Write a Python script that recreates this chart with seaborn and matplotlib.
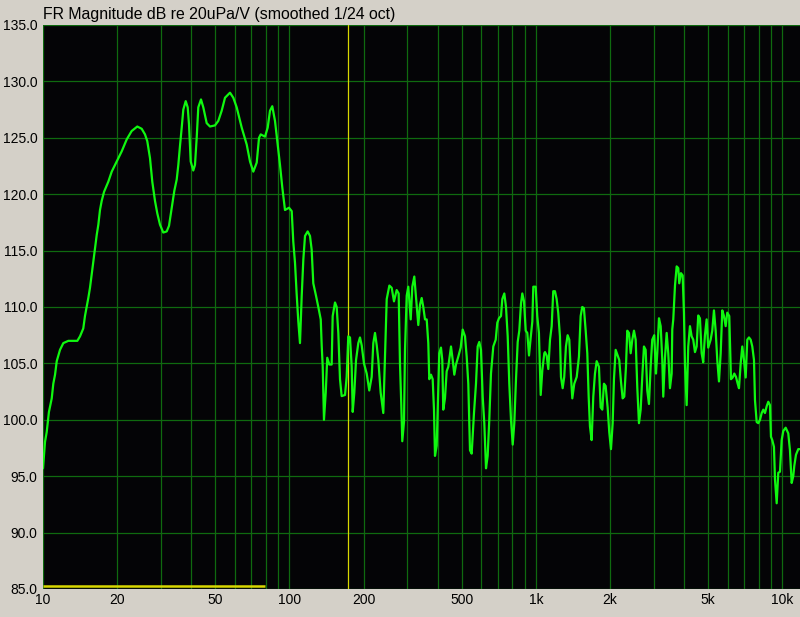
import matplotlib
matplotlib.use('Agg')
import matplotlib.pyplot as plt
import seaborn as sns
import pandas as pd
from matplotlib.ticker import FixedLocator, NullFormatter

# Frequency response (Hz, dB)
freq_hz = [
    10.0, 10.19, 10.35, 10.57, 10.85, 11.01, 11.19, 11.37, 11.72, 12.09,
    12.67, 13.27, 13.78, 14.13, 14.57, 14.80, 15.27, 15.51, 15.76, 16.00,
    16.26, 16.52, 16.77, 17.03, 17.30, 17.68, 18.40, 19.00, 19.91, 20.86,
    21.85, 22.89, 24.13, 25.14, 25.93, 26.49, 27.17, 27.76, 28.47, 29.09,
    29.83, 30.76, 31.76, 32.45, 33.28, 34.10, 34.87, 35.40, 35.96, 36.54,
    37.09, 37.93, 38.64, 39.11, 39.74, 40.71, 41.36, 42.03, 42.66, 43.75,
    44.70, 46.14, 47.59, 49.87, 51.43, 53.08, 54.75, 57.37, 59.16, 61.07,
    64.00, 67.06, 69.16, 71.33, 73.63, 75.23, 76.43, 79.54, 81.58, 83.35,
    85.15, 87.33, 89.22, 91.51, 93.50, 95.88, 99.54, 102.1, 103.6, 105.3,
    106.9, 108.6, 110.3, 112.1, 113.8, 115.6, 118.5, 121.1, 123.0, 124.9,
    128.1, 130.9, 133.9, 135.1, 136.4, 137.1, 138.0, 140.3, 142.3, 145.1,
    148.3, 149.7, 153.0, 155.4, 157.8, 160.3, 162.8, 168.0, 170.6, 173.2,
    176.0, 178.8, 180.5, 183.2, 186.2, 190.2, 193.2, 196.3, 200.5, 205.7,
    210.7, 215.5, 218.8, 222.3, 225.9, 229.3, 234.4, 240.2, 244.1, 248.0,
    254.2, 259.8, 265.4, 272.2, 277.3, 280.7, 284.1, 286.8, 291.4, 294.2,
    298.9, 303.4, 310.3, 315.0, 320.9, 328.1, 333.1, 338.4, 343.8, 349.0,
    354.6, 360.3, 365.7, 369.1, 375.0, 381.0, 385.7, 389.3, 395.5, 401.5,
    405.2, 411.7, 416.8, 420.6, 427.4, 434.2, 440.8, 452.1, 459.4, 466.3,
    473.8, 484.0, 495.0, 504.3, 515.3, 523.5, 531.4, 539.9, 548.4, 560.4,
    571.0, 580.1, 588.8, 598.3, 607.9, 617.1, 627.0, 636.8, 646.5, 656.8,
    671.2, 686.4, 696.7, 707.9, 721.2, 730.1, 743.9, 755.8, 767.8, 779.4,
    791.9, 804.6, 816.7, 829.8, 843.0, 855.7, 869.4, 880.1, 894.2, 908.5,
    922.2, 937.0, 952.0, 966.4, 975.3, 997.2, 1012, 1028, 1045, 1061,
    1081, 1088, 1105, 1122, 1140, 1158, 1175, 1194, 1213, 1231,
    1251, 1263, 1283, 1302, 1323, 1344, 1365, 1387, 1404, 1430,
    1463, 1494, 1518, 1541, 1565, 1591, 1615, 1636, 1656, 1682,
    1708, 1735, 1763, 1801, 1830, 1858, 1887, 1917, 1953, 1983,
    2015, 2047, 2072, 2105, 2145, 2177, 2212, 2247, 2281, 2318,
    2346, 2384, 2422, 2459, 2498, 2538, 2576, 2617, 2659, 2699,
    2742, 2786, 2828, 2873, 2919, 2963, 3019, 3068, 3105, 3155,
    3206, 3254, 3284, 3337, 3390, 3441, 3496, 3552, 3572, 3606,
    3664, 3722, 3778, 3813, 3874, 3936, 3984, 4021, 4086, 4147,
    4214, 4281, 4346, 4416, 4486, 4553, 4626, 4700, 4770, 4847,
    4924, 4998, 5112, 5190, 5273, 5358, 5439, 5526, 5615, 5699,
    5790, 5883, 5971, 6084, 6182, 6281, 6376, 6478, 6582, 6662,
    6768, 6870, 6980, 7092, 7199, 7314, 7431, 7543, 7664, 7735,
    7859, 7978, 8106, 8236, 8360, 8492, 8629, 8759, 8899, 8981,
    9092, 9237, 9325, 9474, 9616, 9770, 9926, 10075, 10304, 10556,
    10725, 10897, 11061, 11166, 11345, 11590, 11776,
]
spl_db = [
    95.7, 98.05, 98.9, 100.7, 101.9, 103.2, 104.0, 105.2, 106.2, 106.8,
    107.0, 107.0, 107.0, 107.4, 108.1, 109.2, 110.8, 111.7, 112.9, 114.0,
    115.2, 116.4, 117.3, 118.6, 119.4, 120.2, 121.1, 122.0, 122.9, 123.8,
    124.85, 125.6, 126.0, 125.8, 125.3, 124.7, 123.2, 121.1, 119.4, 118.3,
    117.3, 116.6, 116.7, 117.2, 118.8, 120.3, 121.3, 122.6, 124.3, 125.9,
    127.5, 128.25, 127.7, 126.2, 122.9, 122.1, 122.6, 125.0, 127.7, 128.4,
    127.7, 126.3, 126.0, 126.1, 126.5, 127.4, 128.55, 129.0, 128.55, 127.7,
    125.9, 124.4, 122.9, 122.0, 122.8, 125.0, 125.3, 125.1, 125.9, 127.4,
    127.8, 126.5, 124.7, 122.6, 120.6, 118.6, 118.8, 118.5, 115.8, 113.9,
    111.2, 108.7, 106.8, 111.0, 114.2, 116.3, 116.7, 116.3, 115.1, 112.1,
    111.0, 110.0, 108.9, 106.6, 104.7, 102.8, 100.0, 102.4, 105.5, 104.9,
    104.9, 109.2, 110.4, 110.0, 107.7, 103.6, 102.1, 102.2, 103.8, 107.4,
    107.3, 104.7, 100.7, 102.4, 105.3, 106.8, 107.3, 106.6, 105.0, 104.1,
    102.6, 103.8, 106.8, 107.7, 106.6, 105.3, 102.4, 100.6, 105.6, 110.7,
    111.9, 111.7, 110.5, 111.5, 111.2, 105.0, 101.4, 98.1, 99.8, 106.2,
    111.0, 111.8, 108.9, 111.8, 112.7, 110.2, 108.4, 110.2, 110.8, 110.0,
    108.9, 108.9, 106.8, 103.6, 104.0, 103.6, 100.9, 96.8, 97.7, 102.8,
    105.9, 106.4, 105.3, 100.9, 101.9, 104.3, 104.7, 106.5, 105.3, 104.0,
    104.9, 105.6, 106.4, 108.0, 107.4, 105.6, 103.2, 97.3, 97.0, 100.6,
    103.2, 106.5, 106.9, 106.2, 102.05, 99.7, 95.7, 96.8, 100.0, 104.1,
    106.5, 107.1, 108.6, 109.0, 109.2, 110.7, 111.2, 110.0, 107.4, 103.2,
    100.0, 97.8, 99.7, 103.6, 106.9, 107.9, 110.3, 111.2, 110.5, 107.9,
    107.7, 105.7, 107.3, 108.7, 111.8, 111.8, 109.2, 107.7, 102.2, 104.4,
    105.9, 106.0, 105.7, 104.5, 107.1, 108.3, 111.4, 111.4, 110.7, 109.5,
    107.4, 103.8, 102.8, 103.8, 106.5, 107.5, 107.1, 103.8, 101.9, 103.2,
    103.8, 105.6, 109.2, 110.0, 109.9, 107.9, 105.9, 102.05, 99.4, 98.2,
    102.05, 104.1, 105.2, 104.7, 101.1, 100.9, 103.2, 103.0, 101.1, 98.9,
    97.4, 99.7, 103.6, 106.2, 105.7, 105.3, 103.4, 101.9, 102.05, 104.7,
    107.9, 107.7, 105.9, 107.1, 107.9, 107.1, 102.9, 99.7, 100.9, 103.8,
    106.5, 106.2, 102.6, 101.4, 104.7, 107.1, 107.5, 104.1, 105.9, 109.0,
    108.3, 105.3, 102.05, 105.5, 107.7, 105.9, 102.8, 104.1, 108.0, 108.9,
    111.9, 113.6, 113.45, 112.1, 113.0, 112.8, 109.5, 105.0, 101.3, 106.5,
    108.3, 107.4, 107.1, 106.0, 106.5, 109.25, 109.0, 105.9, 105.1, 107.5,
    108.9, 106.4, 107.1, 107.9, 109.7, 107.9, 105.3, 103.4, 105.9, 109.7,
    109.2, 108.3, 109.5, 109.2, 103.6, 103.75, 104.1, 103.8, 103.2, 102.8,
    105.0, 106.5, 105.3, 103.75, 107.1, 107.3, 107.1, 106.5, 105.3, 101.75,
    99.8, 99.7, 100.0, 100.6, 100.9, 100.6, 101.2, 101.6, 101.3, 98.5,
    98.2, 97.6, 94.7, 92.6, 95.3, 95.4, 98.2, 99.0, 99.3, 98.8,
    97.3, 94.4, 95.0, 95.9, 96.9, 97.4, 97.4,
]

x_ticks = [10, 20, 50, 100, 200, 500, 1000, 2000, 5000, 10000]
x_tick_labels = ['10', '20', '50', '100', '200', '500', '1k', '2k', '5k', '10k']
x_grid_minor = [30, 40, 60, 70, 80, 90, 300, 400, 600, 700, 800, 900,
                3000, 4000, 6000, 7000, 8000, 9000]
y_ticks = [85, 90, 95, 100, 105, 110, 115, 120, 125, 130, 135]
y_tick_labels = ['85.0', '90.0', '95.0', '100.0', '105.0', '110.0',
                 '115.0', '120.0', '125.0', '130.0', '135.0']
marker_freq = 173
window_freq = [10, 79.5]
window_level = 85.3

title = 'FR Magnitude dB re 20uPa/V (smoothed 1/24 oct)'

df = pd.DataFrame({'freq': freq_hz, 'db': spl_db})

sns.set_style('dark')
plt.rcParams['font.family'] = ['Liberation Sans', 'DejaVu Sans']

fig = plt.figure(figsize=(8, 6.17), dpi=100, facecolor='#d4d0c8')
ax = fig.add_axes([43 / 800, 28 / 617, 757 / 800, 564 / 617])
ax.set_facecolor('#040406')

sns.lineplot(data=df, x='freq', y='db', ax=ax, color='#10f810',
             linewidth=1.6, estimator=None, sort=False, zorder=3)

ax.set_xscale('log')
ax.set_xlim(10, 11780)
ax.set_ylim(85, 135)

ax.xaxis.set_major_locator(FixedLocator(x_ticks))
ax.xaxis.set_minor_locator(FixedLocator(x_grid_minor))
ax.set_xticklabels(x_tick_labels)
ax.xaxis.set_minor_formatter(NullFormatter())
ax.set_yticks(y_ticks)
ax.set_yticklabels(y_tick_labels)

ax.grid(True, which='both', color='#0f6a0f', linewidth=0.9, zorder=1)
ax.tick_params(which='both', length=0, labelsize=10, colors='black')
ax.tick_params(axis='x', pad=3)
ax.tick_params(axis='y', pad=4)
for s in ax.spines.values():
    s.set_visible(False)

ax.set_xlabel('')
ax.set_ylabel('')

ax.axvline(marker_freq, color='#d8d800', linewidth=0.9, zorder=2)
ax.hlines(window_level, window_freq[0], window_freq[1], color='#d8d800',
          linewidth=1.8, zorder=2)

fig.text(43 / 800, 1 - 18.5 / 617, title, ha='left', va='baseline',
         fontsize=11.4, color='black')

fig.savefig('out.png', dpi=100, facecolor=fig.get_facecolor())
